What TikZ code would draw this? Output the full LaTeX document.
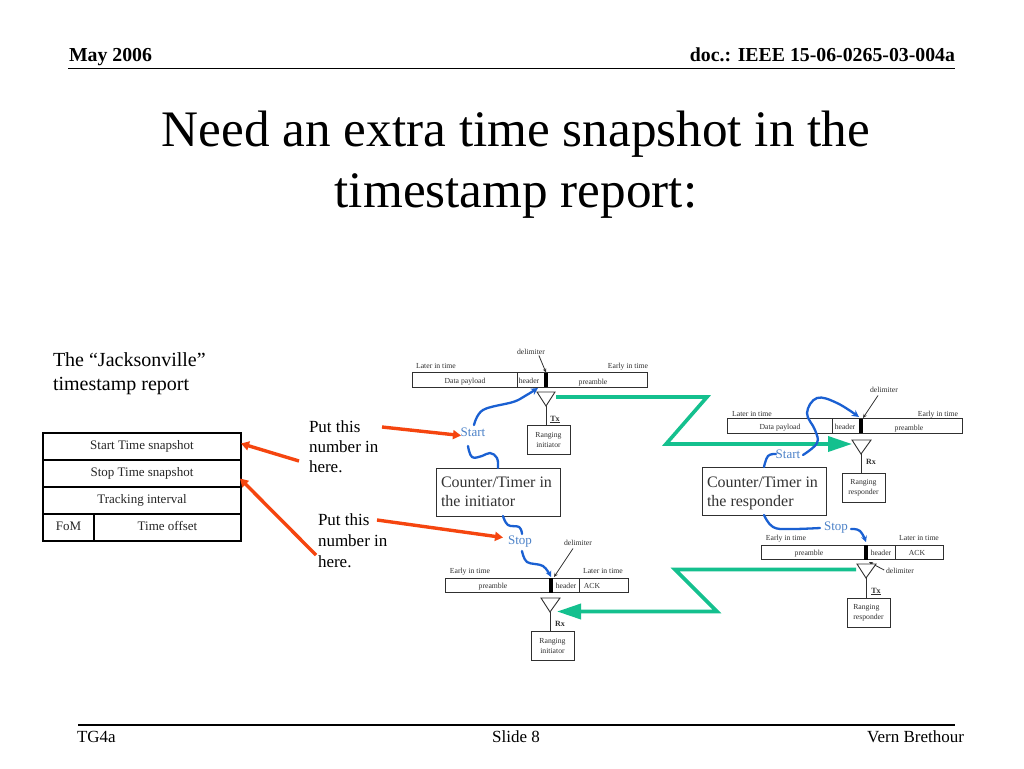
\documentclass[tikz,border=0pt]{standalone}
\usepackage{fontspec}
\setmainfont{Liberation Serif}
\usetikzlibrary{arrows.meta}
\definecolor{grn}{HTML}{14C08E}
\definecolor{rd}{HTML}{F5450F}
\definecolor{blu}{HTML}{1A60D2}
\definecolor{lblu}{HTML}{4C82C8}
\definecolor{gr}{HTML}{303030}
\tikzset{
 fs/.style={font=\fontsize{#1pt}{#1pt}\selectfont},
 lbl/.style={inner sep=0,outer sep=0,anchor=center},
 bs/.style={inner sep=0,outer sep=0,anchor=base},
 lft/.style={inner sep=0,outer sep=0,anchor=base west},
 rgt/.style={inner sep=0,outer sep=0,anchor=base east},
 tiny/.style={lbl,fs=7.7,text=gr,text height=5.5pt,text depth=1.5pt},
 barbox/.style={draw=gr,line width=0.9pt,inner sep=0,outer sep=0,minimum height=14.5pt},
 smallbox/.style={draw=gr,line width=0.9pt,inner sep=0,outer sep=0,minimum width=43pt,minimum height=29pt,align=center,font=\fontsize{7.7pt}{10pt}\selectfont,text=gr},
 ctbox/.style={draw=gr,line width=1pt,inner sep=0,outer sep=0,minimum width=124pt,minimum height=48pt},
 tcell/.style={draw=black,line width=1.2pt,inner sep=0,outer sep=0,minimum height=27pt,fs=13,text=black!85,text height=9pt,text depth=3pt},
 grnarrow/.style={draw=grn,line width=3.6pt,line join=miter},
 redarrow/.style={draw=rd,line width=3.4pt,-{Triangle[length=8pt,width=9pt]}},
 bluecurve/.style={draw=blu,line width=2.3pt,line cap=round},
 ptr/.style={draw=gr,line width=0.8pt,-{Stealth[length=4pt,width=3.5pt]}},
 ant/.style={draw=gr,line width=0.9pt,fill=white},
 stem/.style={draw=gr,line width=0.9pt},
 ctxt/.style={lft,fs=16,text=black!80},
 sig/.style={lbl,fs=13,text=lblu},
}
\begin{document}
\begin{tikzpicture}[x=1pt,y=-1pt]
\useasboundingbox (0,0) rectangle (1024,768);
\fill[white] (0,0) rectangle (1024,768);
% header / footer
\node[lft,fs=19.8] (hl) at (69,62) {\textbf{May 2006}};
\node[rgt,fs=19.8] (hr) at (955,62) {\textbf{doc.: IEEE 15-06-0265-03-004a}};
\coordinate (rula) at (68,68.5); \coordinate (rulb) at (955,68.5);
\draw[line width=1.2pt] (rula) -- (rulb);
\node[bs,fs=51.2] (t1) at (516,146) {Need an extra time snapshot in the};
\node[bs,fs=51.2] (t2) at (516,207) {timestamp report:};
\coordinate (fula) at (78,725); \coordinate (fulb) at (955,725);
\draw[line width=1.2pt] (fula) -- (fulb);
\node[lft,fs=17] (f1) at (77,742) {TG4a};
\node[bs,fs=17] (f2) at (516,742) {Slide 8};
\node[rgt,fs=17] (f3) at (964,742) {Vern Brethour};
% left text
\node[lft,fs=20] (j1) at (53,366) {The “Jacksonville”};
\node[lft,fs=20] (j2) at (53,390) {timestamp report};
\node[lft,fs=17] (p1) at (309,432) {Put this};
\node[lft,fs=17] (p2) at (309,452) {number in};
\node[lft,fs=17] (p3) at (309,472) {here.};
\node[lft,fs=17] (q1) at (318,525) {Put this};
\node[lft,fs=17] (q2) at (318,546) {number in};
\node[lft,fs=17] (q3) at (318,567) {here.};
% table
\node[tcell,minimum width=198pt] (r1) at (142,446.5) {Start Time snapshot};
\node[tcell,minimum width=198pt] (r2) at (142,473.5) {Stop Time snapshot};
\node[tcell,minimum width=198pt] (r3) at (142,500.5) {Tracking interval};
\node[tcell,minimum width=51pt] (r4) at (68.5,527.5) {FoM};
\node[tcell,minimum width=147pt] (r5) at (167.5,527.5) {Time offset};
% top-left bar
\node[barbox,minimum width=235pt] (b1) at (529.5,380) {};
\draw[gr,line width=0.9pt] (517,373) -- (517,387);
\fill[black] (544,373) rectangle (548,387);
\node[tiny] (b1a) at (465,381) {Data payload};
\node[tiny] (b1b) at (529,381) {header};
\node[tiny] (b1c) at (593,382) {preamble};
\node[tiny] (b1l) at (436,366) {Later in time};
\node[tiny] (b1r) at (628,366) {Early in time};
\node[tiny] (b1d) at (531,352) {delimiter};
\coordinate (b1p) at (546,372.5);
\draw[ptr] (b1d.south east) ++(-6,0) -- (b1p);
\coordinate (a1) at (546,406);
\draw[ant] (a1) -- (537,392) -- (555,392) -- cycle;
\node[smallbox] (s1) at (548.5,439.5) {Ranging\\initiator};
\draw[stem] (a1) -- (a1 |- s1.north);
\node[tiny,font=\fontsize{8}{8}\selectfont\bfseries] (tx1) at (555,419) {\underline{Tx}};
% top-right bar
\node[barbox,minimum width=235pt] (b2) at (844.5,426) {};
\draw[gr,line width=0.9pt] (832,419) -- (832,433);
\fill[black] (859,419) rectangle (863,433);
\node[tiny] (b2a) at (780,427) {Data payload};
\node[tiny] (b2b) at (845,427) {header};
\node[tiny] (b2c) at (909,428) {preamble};
\node[tiny] (b2l) at (752,414) {Later in time};
\node[tiny] (b2r) at (938,414) {Early in time};
\node[tiny] (b2d) at (884,390) {delimiter};
\coordinate (b2p) at (863,418);
\draw[ptr] (b2d.south) ++(-6,2) -- (b2p);
\coordinate (a2) at (861,454);
\draw[ant] (a2) -- (852,440) -- (871,440) -- cycle;
\node[smallbox] (s2) at (863.5,487.5) {Ranging\\responder};
\draw[stem] (a2) -- (a2 |- s2.north);
\node[tiny,font=\fontsize{8}{8}\selectfont\bfseries] (rx2) at (871,462) {Rx};
% bottom-left bar
\node[barbox,minimum width=183pt] (b3) at (536.5,585.5) {};
\draw[gr,line width=0.9pt] (579,578) -- (579,593);
\fill[black] (549,578) rectangle (553,593);
\node[tiny] (b3a) at (493,586) {preamble};
\node[tiny] (b3b) at (566,586) {header};
\node[tiny] (b3c) at (592,586) {ACK};
\node[tiny] (b3l) at (470,571) {Early in time};
\node[tiny] (b3r) at (603,571) {Later in time};
\node[tiny] (b3d) at (578,543) {delimiter};
\coordinate (b3p) at (554,577);
\draw[ptr] (b3d.south) ++(-5,2) -- (b3p);
\coordinate (a3) at (550,612);
\draw[ant] (a3) -- (541,598) -- (560,598) -- cycle;
\node[smallbox] (s3) at (552.5,645.5) {Ranging\\initiator};
\draw[stem] (a3) -- (a3 |- s3.north);
\node[tiny,font=\fontsize{8}{8}\selectfont\bfseries] (rx3) at (560,624) {Rx};
% bottom-right bar
\node[barbox,minimum width=182pt] (b4) at (852,552.5) {};
\draw[gr,line width=0.9pt] (895,545) -- (895,560);
\fill[black] (864,545) rectangle (868,560);
\node[tiny] (b4a) at (809,553) {preamble};
\node[tiny] (b4b) at (881,553) {header};
\node[tiny] (b4c) at (917,553) {ACK};
\node[tiny] (b4l) at (786,538) {Early in time};
\node[tiny] (b4r) at (919,538) {Later in time};
\node[tiny] (b4d) at (900,571) {delimiter};
\coordinate (b4p) at (869,562);
\draw[ptr] (b4d.west) ++(-2,-1) -- (b4p);
\coordinate (a4) at (866,578);
\draw[ant] (a4) -- (857,564) -- (876,564) -- cycle;
\node[smallbox,align=left] (s4) at (868.5,612.5) {Ranging\\responder};
\draw[stem] (a4) -- (a4 |- s4.north);
\node[tiny,font=\fontsize{8}{8}\selectfont\bfseries] (tx4) at (876,591) {\underline{Tx}};
% counters
\node[ctbox] (c1) at (498,492) {};
\node[ctxt] (c1t) at (441,487) {Counter/Timer in};
\node[ctxt] (c1u) at (441,506.5) {the initiator};
\node[ctbox] (c2) at (764,491) {};
\node[ctxt] (c2t) at (707,487) {Counter/Timer in};
\node[ctxt] (c2u) at (707,506.5) {the responder};
% signal labels
\node[sig] (st1) at (473,432) {Start};
\node[sig] (sp1) at (520,542) {Stop};
\node[sig] (st2) at (788,454) {Start};
\node[sig] (sp2) at (836,528) {Stop};
% green
\coordinate (g1a) at (556,397); \coordinate (g1b) at (707,397); \coordinate (g1c) at (666,444); \coordinate (g1d) at (852,444);
\draw[grnarrow,-{Triangle[length=24pt,width=15pt]}] (g1a) -- (g1b) -- (g1c) -- (g1d);
\coordinate (g2a) at (856,569.5); \coordinate (g2b) at (675,569.5); \coordinate (g2c) at (717,611.5); \coordinate (g2d) at (557,611.5);
\draw[grnarrow,-{Triangle[length=24pt,width=15pt]}] (g2a) -- (g2b) -- (g2c) -- (g2d);
% red
\coordinate (ra) at (382,427); \coordinate (rb) at (461,435.5);
\draw[redarrow] (ra) -- (rb);
\coordinate (rc) at (377,520); \coordinate (rd2) at (503,537.5);
\draw[redarrow] (rc) -- (rd2);
\coordinate (re) at (299,461); \coordinate (rf) at (241,443.5);
\draw[redarrow] (re) -- (rf);
\coordinate (rg) at (316,555); \coordinate (rh) at (240,478.5);
\draw[redarrow] (rg) -- (rh);
% blue curves
\draw[bluecurve,-{Stealth[length=7pt,width=7pt]}] plot[smooth,tension=0.6] coordinates {(474,425) (483,410) (513,402) (525,396) (538,388)};
\draw[bluecurve] plot[smooth,tension=0.7] coordinates {(468,446) (472,457) (482,456) (490,453) (497,458) (498,468)};
\draw[bluecurve] plot[smooth,tension=0.7] coordinates {(503,516) (508,525) (519,527) (522,534)};
\draw[bluecurve,-{Stealth[length=6pt,width=6pt]}] plot[smooth,tension=0.6] coordinates {(522,551) (527,562) (543,566) (551,577)};
\draw[bluecurve,-{Stealth[length=7pt,width=7pt]}] plot[smooth,tension=0.65] coordinates {(803,455) (817,443) (815,430) (807,413) (817,398) (837,403) (859,417)};
\draw[bluecurve] plot[smooth,tension=0.7] coordinates {(764,467) (768,456) (776,454)};
\draw[bluecurve] plot[smooth,tension=0.7] coordinates {(764,515) (773,527) (790,529) (820,528)};
\draw[bluecurve,-{Stealth[length=6pt,width=6pt]}] plot[smooth,tension=0.7] coordinates {(851,529) (860,531) (866,542)};
\end{tikzpicture}
\end{document}
